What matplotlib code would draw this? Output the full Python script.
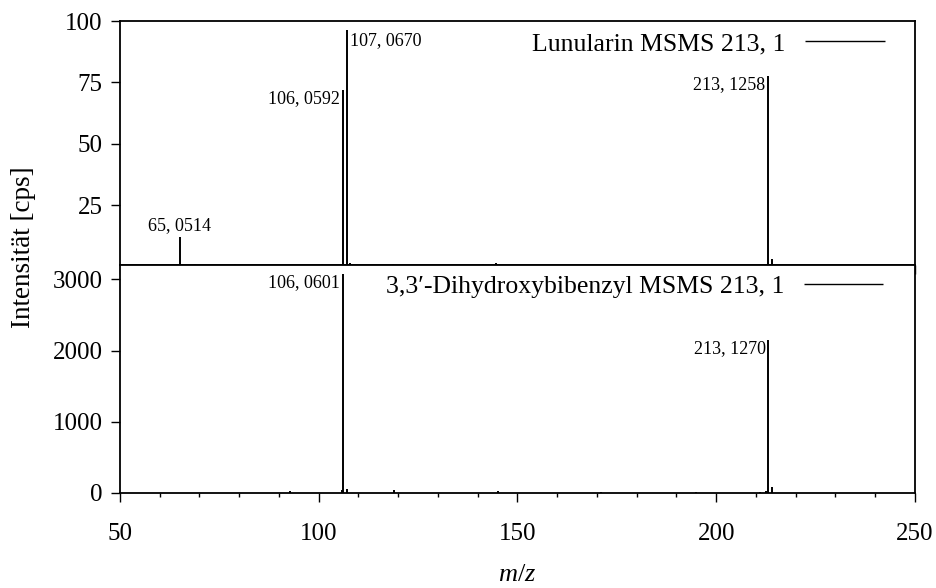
import matplotlib
matplotlib.use("Agg")
import matplotlib.pyplot as plt
from matplotlib.ticker import MultipleLocator

plt.rcParams['font.family'] = ['Liberation Serif', 'DejaVu Serif']
plt.rcParams['mathtext.fontset'] = 'custom'
plt.rcParams['mathtext.it'] = 'Liberation Serif:italic'
plt.rcParams['mathtext.rm'] = 'Liberation Serif'

# Lunularin MSMS 213,1 (relative intensity, %)
lun_mz = [65.0514, 69.0, 79.0, 91.0, 100.9, 106.0592, 107.0670, 107.9,
          118.6, 141.4, 144.5, 168.6, 213.1258, 214.1]
lun_int = [12.0, 1.0, 0.8, 0.6, 0.8, 72.0, 96.3, 1.5,
           0.8, 0.8, 1.3, 0.7, 77.8, 3.2]

# 3,3'-Dihydroxybibenzyl MSMS 213,1 (cps)
dhb_mz = [92.9, 105.8, 106.0601, 107.0, 119.0, 145.0, 171.0, 195.0,
          211.0, 212.6, 213.1270, 214.1]
dhb_int = [25.0, 40.0, 3070.0, 60.0, 35.0, 25.0, 10.0, 12.0,
           12.0, 30.0, 2145.0, 80.0]

lun_labels = {65.0514: "65, 0514", 106.0592: "106, 0592",
              107.0670: "107, 0670", 213.1258: "213, 1258"}
dhb_labels = {106.0601: "106, 0601", 213.1270: "213, 1270"}

fig = plt.figure(figsize=(9.37, 5.88), dpi=100)
ax1 = fig.add_axes([0.128, 0.549, 0.8485, 0.415])
ax2 = fig.add_axes([0.128, 0.1616, 0.8485, 0.3874], sharex=ax1)

ax1.vlines(lun_mz, 0, lun_int, color='black', lw=1.4, label='Lunularin MSMS 213, 1')
ax2.vlines(dhb_mz, 0, dhb_int, color='black', lw=1.4,
           label='3,3\u2032-Dihydroxybibenzyl MSMS 213, 1')

ax1.set_xlim(50, 250)
ax1.set_ylim(0.5, 100)
ax2.set_ylim(0, 3200)
ax1.set_yticks([25, 50, 75, 100])
ax2.set_yticks([0, 1000, 2000, 3000])

for ax in (ax1, ax2):
    ax.xaxis.set_major_locator(MultipleLocator(50))
    ax.xaxis.set_minor_locator(MultipleLocator(10))
    ax.tick_params(axis='both', which='major', direction='out', length=6.5,
                   width=1, labelsize=18, pad=6)
    ax.tick_params(axis='x', which='minor', direction='out', length=3, width=1)
    ax.tick_params(top=False, right=False)
    for s in ax.spines.values():
        s.set_linewidth(1.3)

ax1.tick_params(axis='x', labelbottom=False)
ax2.tick_params(axis='x', pad=15)

fs_ann = 13
ax1.annotate(lun_labels[65.0514], (65.0514, lun_int[0]), xytext=(0, 2),
             textcoords='offset points', ha='center', va='bottom', fontsize=fs_ann)
ax1.annotate(lun_labels[106.0592], (106.0592, lun_int[5]), xytext=(-2, 0),
             textcoords='offset points', ha='right', va='top', fontsize=fs_ann)
ax1.annotate(lun_labels[107.0670], (107.0670, lun_int[6]), xytext=(2, -1),
             textcoords='offset points', ha='left', va='top', fontsize=fs_ann)
ax1.annotate(lun_labels[213.1258], (213.1258, lun_int[12]), xytext=(-2, 0),
             textcoords='offset points', ha='right', va='top', fontsize=fs_ann)
ax2.annotate(dhb_labels[106.0601], (106.0601, dhb_int[2]), xytext=(-2, 0),
             textcoords='offset points', ha='right', va='top', fontsize=fs_ann)
ax2.annotate(dhb_labels[213.1270], (213.1270, dhb_int[10]), xytext=(-2, 0),
             textcoords='offset points', ha='right', va='top', fontsize=fs_ann)

leg_kw = dict(loc='upper right', frameon=False, markerfirst=False, fontsize=18.5,
              handlelength=3.1, handletextpad=0.75, borderpad=0, borderaxespad=0)
l1 = ax1.legend(bbox_to_anchor=(0.962, 0.955), **leg_kw)
l2 = ax2.legend(bbox_to_anchor=(0.96, 0.955), **leg_kw)
for l in (l1, l2):
    for h in l.legend_handles:
        h.set_linewidth(1)

ax2.set_xlabel('$m/z$', fontsize=19, labelpad=14)
fig.text(0.025, 0.58, 'Intensität [cps]', rotation=90, fontsize=19.5,
         ha='center', va='center')

fig.savefig('out.png', dpi=100)
